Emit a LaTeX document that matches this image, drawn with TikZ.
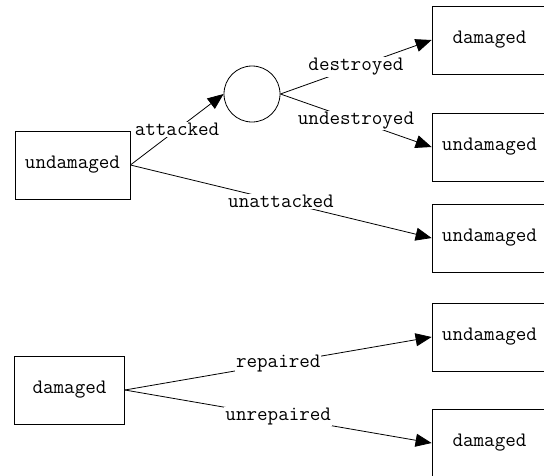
\documentclass[tikz,border=0pt]{standalone}
\usetikzlibrary{arrows.meta}
\begin{document}
\begin{tikzpicture}[x=1pt,y=-1pt,line width=0.8pt]
\tikzstyle{every node}+=[font=\ttfamily\fontsize{20.5}{24}\selectfont]
\tikzstyle{state}=[draw, minimum width=115pt, minimum height=68pt, inner sep=0pt]
\tikzstyle{chance}=[draw, circle, minimum size=56pt, inner sep=0pt]
\tikzstyle{lbl}=[fill=white, inner sep=1pt]
\tikzstyle{arr}=[-{Triangle[length=16pt,width=13pt]}]
\useasboundingbox (0,0) rectangle (544,475);
% left column
\node [state] (und) at (72.5,165) {undamaged};
\node [state, minimum width=110pt] (dam) at (69.5,390) {damaged};
% chance node
\node [chance] (att) at (252,94) {};
% right column
\node [state] (r1) at (489.5,40) {damaged};
\node [state] (r2) at (489.5,147) {undamaged};
\node [state] (r3) at (489.5,238) {undamaged};
\node [state] (r4) at (489.5,337) {undamaged};
\node [state] (r5) at (489.5,443) {damaged};
% edges
\draw [arr] (und.east) -- node [lbl] {attacked} (att.west);
\draw [arr] (att.east) -- node [lbl] {destroyed} (r1.west);
\draw [arr] (att.east) -- node [lbl] {undestroyed} (r2.west);
\draw [arr] (und.east) -- node [lbl] {unattacked} (r3.west);
\draw [arr] (dam.east) -- node [lbl] {repaired} (r4.west);
\draw [arr] (dam.east) -- node [lbl] {unrepaired} (r5.west);
\end{tikzpicture}
\end{document}
